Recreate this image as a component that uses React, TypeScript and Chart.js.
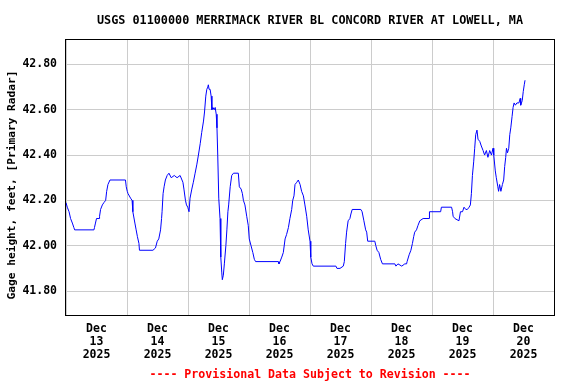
import React, { useEffect, useRef } from "react";
import { Chart, registerables } from "chart.js";

Chart.register(...registerables);

// Hours since Dec 13 2025 00:00
const hours = [
  0, 0.5, 1.2, 1.8, 2.5, 3.1, 3.4, 11.0, 11.2, 11.6, 12.0, 13.0, 13.2, 13.6, 14.3, 14.9, 15.6, 16.0, 16.5, 17.3,
  23.4, 23.7, 24.1, 24.4, 25.4, 26.0, 26.3, 27.1, 27.6, 28.1, 28.7, 28.9, 34.2, 35.2, 35.9, 36.5, 37.2, 37.6, 37.8,
  38.2, 38.6, 39.1, 39.8, 40.5, 41.4, 42.6, 43.7, 44.9, 46.0, 46.4, 47.0, 47.4, 47.9, 48.4, 48.8, 49.5, 50.1, 50.8,
  51.5, 52.1, 52.8, 53.4, 54.1, 54.5, 55.0, 55.4, 55.8, 56.0, 56.3, 56.7, 57.1, 57.4, 57.8, 58.3, 58.7, 59.1, 59.4,
  59.7, 60.1, 60.6, 60.9, 61.3, 61.5, 61.9, 62.3, 62.9, 63.3, 63.7, 64.0, 64.6, 65.2, 65.9, 67.8, 68.2, 68.9, 69.4,
  69.8, 70.4, 71.1, 71.7, 72.1, 72.8, 73.5, 74.1, 74.6, 83.5, 83.8, 84.2, 84.9, 85.5, 86.2, 86.8, 87.5, 88.1, 88.8,
  89.2, 89.7, 90.1, 90.8, 91.4, 92.1, 92.7, 93.4, 94.0, 94.7, 95.3, 96.0, 96.3, 96.8, 97.3, 106.2, 106.6, 107.8,
  109.1, 109.5, 110.0, 110.4, 111.0, 111.7, 112.1, 112.6, 116.0, 116.5, 117.2, 117.9, 118.3, 118.7, 121.5, 121.9,
  122.4, 123.1, 123.8, 124.5, 129.4, 129.8, 130.6, 132.1, 133.3, 134.0, 134.2, 135.0, 135.7, 136.3, 136.8, 137.2,
  137.9, 138.5, 139.2, 140.5, 142.9, 143.0, 147.4, 147.7, 151.7, 152.1, 152.3, 153.0, 154.6, 155.2, 156.0, 156.6,
  157.3, 157.9, 158.6, 159.1, 159.5, 159.9, 160.4, 160.8, 161.2, 161.7, 162.1, 162.8, 163.4, 164.1, 164.7, 165.4,
  166.0, 166.7, 167.4, 168.0, 168.3, 168.9, 169.3, 169.9, 170.2, 170.6, 171.1, 171.7, 172.2, 172.6, 173.0, 173.3,
  173.7, 174.2, 174.6, 175.0, 175.5, 175.9, 176.3, 176.8, 177.4, 178.2, 178.7, 178.9, 179.5, 179.9, 180.3, 180.6,
];

// Gage height, feet
const gageHeight = [
  42.19, 42.17, 42.15, 42.12, 42.10, 42.08, 42.07, 42.07, 42.08, 42.10, 42.12, 42.12, 42.13, 42.16, 42.18, 42.19, 42.20, 42.24, 42.27, 42.29,
  42.29, 42.26, 42.24, 42.23, 42.21, 42.20, 42.15, 42.10, 42.07, 42.04, 42.01, 41.98, 41.98, 41.99, 42.02, 42.03, 42.07, 42.12, 42.15,
  42.23, 42.26, 42.29, 42.31, 42.32, 42.30, 42.31, 42.30, 42.31, 42.28, 42.25, 42.20, 42.18, 42.17, 42.15, 42.21, 42.25, 42.28, 42.32,
  42.36, 42.40, 42.45, 42.50, 42.55, 42.59, 42.66, 42.69, 42.70, 42.71, 42.69, 42.69, 42.66, 42.60, 42.61, 42.60, 42.61, 42.58, 42.52,
  42.40, 42.21, 42.12, 41.95, 41.88, 41.85, 41.87, 41.92, 42.00, 42.07, 42.15, 42.18, 42.26, 42.31, 42.32, 42.32, 42.26, 42.25, 42.23,
  42.20, 42.18, 42.13, 42.09, 42.03, 42.00, 41.97, 41.94, 41.93, 41.93, 41.92, 41.93, 41.95, 41.97, 42.03, 42.05, 42.08, 42.12, 42.16,
  42.20, 42.22, 42.27, 42.28, 42.29, 42.27, 42.24, 42.22, 42.18, 42.13, 42.07, 42.02, 41.95, 41.92, 41.91, 41.91, 41.90, 41.90,
  41.91, 41.93, 42.01, 42.06, 42.11, 42.12, 42.14, 42.16, 42.16, 42.15, 42.11, 42.07, 42.06, 42.02, 42.02, 42.00,
  41.98, 41.97, 41.94, 41.92, 41.92, 41.91, 41.92, 41.91, 41.92, 41.92, 41.93, 41.96, 41.98, 42.01, 42.04, 42.06,
  42.07, 42.09, 42.11, 42.12, 42.12, 42.15, 42.15, 42.17, 42.17, 42.15, 42.13, 42.12, 42.11, 42.15, 42.15, 42.17,
  42.16, 42.16, 42.17, 42.18, 42.23, 42.31, 42.37, 42.43, 42.49, 42.51, 42.47, 42.46, 42.44, 42.42, 42.40, 42.42,
  42.39, 42.42, 42.40, 42.43, 42.40, 42.33, 42.30, 42.26, 42.24, 42.27, 42.24, 42.27, 42.29, 42.35, 42.39, 42.43,
  42.41, 42.43, 42.49, 42.52, 42.57, 42.61, 42.63, 42.62, 42.63, 42.63, 42.65, 42.62, 42.64, 42.68, 42.71, 42.73,
];

const yTicks = [41.8, 42.0, 42.2, 42.4, 42.6, 42.8];
const monthLabel = "Dec";
const yearLabel = "2025";
const dayLabels = ["13", "14", "15", "16", "17", "18", "19", "20"];

const titleText = "USGS 01100000 MERRIMACK RIVER BL CONCORD RIVER AT LOWELL, MA";
const yTitleText = "Gage height, feet, [Primary Radar]";
const footerText = "---- Provisional Data Subject to Revision ----";

const FONT = "'DejaVu Sans Mono', monospace";

export default function App() {
  const ref = useRef<HTMLCanvasElement | null>(null);

  useEffect(() => {
    document.body.style.margin = "0";
    const canvas = ref.current;
    if (!canvas) return;

    const textPlugin = {
      id: "texts",
      beforeDatasetsDraw(chart: any) {
        const { ctx, chartArea } = chart;
        ctx.save();
        ctx.strokeStyle = "#000";
        ctx.lineWidth = 1;
        ctx.strokeRect(
          Math.round(chartArea.left) - 0.5,
          Math.round(chartArea.top) + 0.5,
          Math.round(chartArea.right) - Math.round(chartArea.left) + 1,
          Math.round(chartArea.bottom) - Math.round(chartArea.top) - 1
        );
        ctx.restore();
      },
      afterDraw(chart: any) {
        const { ctx, chartArea } = chart;
        const cx = (chartArea.left + chartArea.right) / 2;
        ctx.save();
        ctx.textAlign = "center";
        ctx.textBaseline = "middle";
        ctx.fillStyle = "#000";
        ctx.font = `bold 11.8px ${FONT}`;
        ctx.fillText(titleText, cx, 21);
        ctx.fillStyle = "#ff0000";
        ctx.font = `bold 11.6px ${FONT}`;
        ctx.fillText(footerText, cx, 375);
        ctx.fillStyle = "#000";
        ctx.translate(12, 185);
        ctx.rotate(-Math.PI / 2);
        ctx.font = `bold 11.2px ${FONT}`;
        ctx.fillText(yTitleText, 0, 0);
        ctx.restore();
      },
    };

    const chart = new Chart(canvas, {
      type: "line",
      data: {
        datasets: [
          {
            data: hours.map((h, i) => ({ x: h, y: gageHeight[i] })),
            borderColor: "#0000ff",
            borderWidth: 1,
            pointRadius: 0,
            tension: 0,
            fill: false,
          },
        ],
      },
      options: {
        animation: false,
        responsive: false,
        events: [],
        layout: { padding: { left: 0, top: 39, right: 22, bottom: 0 } },
        plugins: {
          legend: { display: false },
          title: { display: false },
          tooltip: { enabled: false },
        },
        scales: {
          x: {
            type: "linear",
            min: 0,
            max: 192,
            afterBuildTicks(scale: any) {
              const t = [];
              for (let v = 0; v <= 192; v += 12) t.push({ value: v });
              scale.ticks = t;
            },
            afterFit(scale: any) {
              scale.height = 68;
            },
            grid: {
              color: (c: any) => (c.tick && c.tick.value % 24 === 0 ? "#cccccc" : "rgba(0,0,0,0)"),
              lineWidth: 1,
              drawTicks: false,
            },
            border: { display: false },
            ticks: {
              autoSkip: false,
              maxRotation: 0,
              minRotation: 0,
              padding: 7,
              color: "#000",
              font: { family: FONT, size: 11.5, weight: "bold", lineHeight: 1.11 },
              callback: (v: any) => {
                const n = Number(v);
                if (n % 24 !== 12) return "";
                return [monthLabel, dayLabels[Math.floor(n / 24)], yearLabel];
              },
            },
          },
          y: {
            type: "linear",
            min: 41.69,
            max: 42.912,
            afterBuildTicks(scale: any) {
              scale.ticks = yTicks.map((v) => ({ value: v }));
            },
            afterFit(scale: any) {
              scale.width = 66;
            },
            grid: { color: "#cccccc", lineWidth: 1, drawTicks: false },
            border: { display: false },
            ticks: {
              padding: 9,
              color: "#000",
              font: { family: FONT, size: 11.5, weight: "bold" },
              callback: (v: any) => Number(v).toFixed(2),
            },
          },
        },
      },
      plugins: [textPlugin],
    });

    return () => chart.destroy();
  }, []);

  return <canvas ref={ref} width={576} height={384} style={{ display: "block", width: 576, height: 384 }} />;
}
